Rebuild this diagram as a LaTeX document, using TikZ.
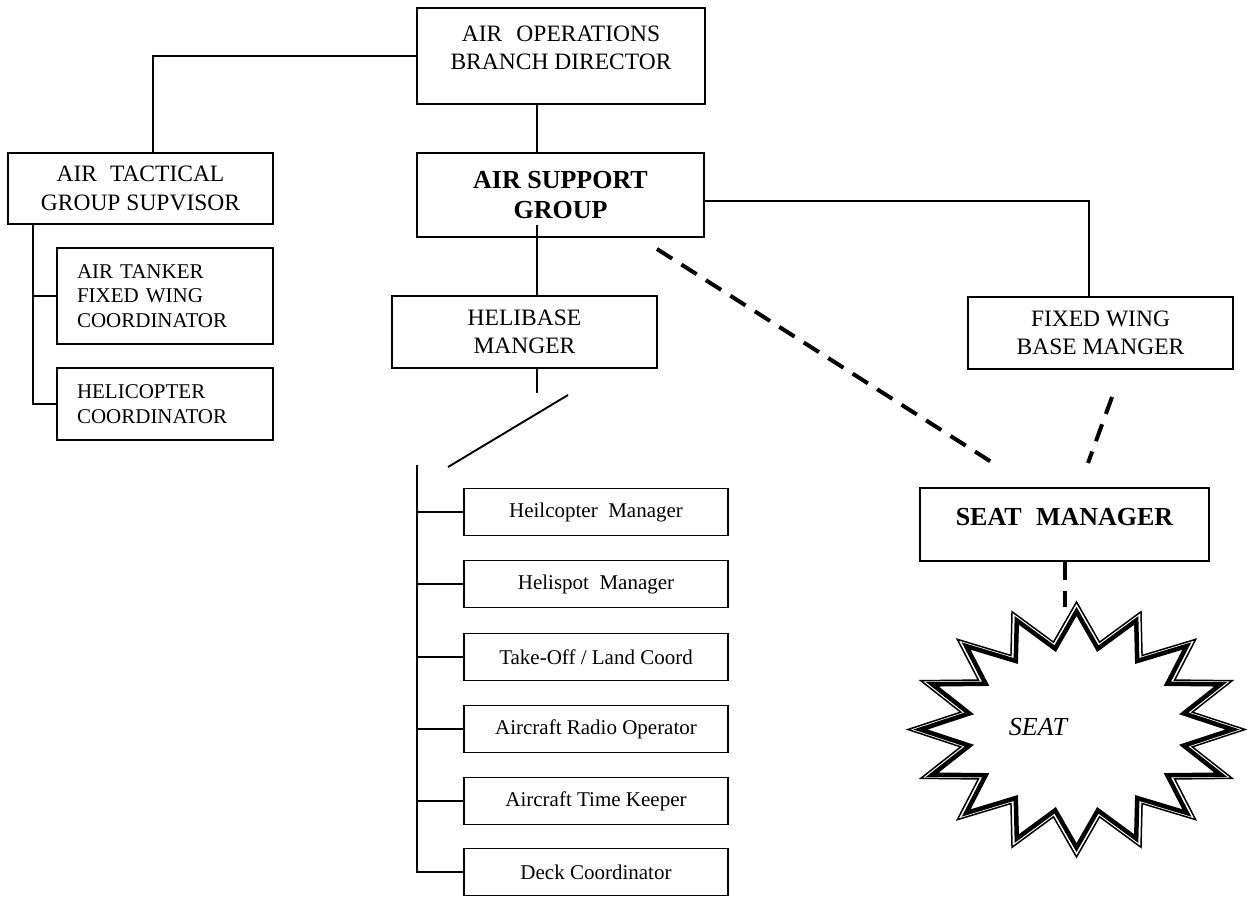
\documentclass[tikz,border=0pt]{standalone}
\usepackage{fontspec}
\setmainfont{Liberation Serif}
\begin{document}
\begin{tikzpicture}[x=1pt,y=-1pt,
  box/.style={draw, line width=1.8pt, rectangle, inner sep=0pt, align=center},
  conn/.style={line width=1.9pt},
  dashconn/.style={line width=4pt, dash pattern=on 18pt off 11pt},
  big/.style={font=\fontsize{23.5}{28.5}\selectfont},
  small/.style={font=\fontsize{21}{24.5}\selectfont},
  bigbold/.style={font=\fontsize{26}{30}\selectfont\bfseries},
  listbox/.style={box, small, minimum width=264pt, minimum height=47pt},
  leftbox/.style={box, small, minimum width=216pt, text width=176pt, align=left},
]
\useasboundingbox (0,0) rectangle (1249,896);

% main boxes
\node[box,big,minimum width=288pt,minimum height=96pt] (aobd) at (561,56)
  {AIR\hspace{0.6em}OPERATIONS\\BRANCH DIRECTOR\rule[-17pt]{0pt}{0pt}};
\node[box,bigbold,minimum width=287pt,minimum height=84pt] (asg) at (560.5,195)
  {AIR SUPPORT\\GROUP};
\node[box,big,minimum width=265pt,minimum height=71pt] (atgs) at (140.5,188.5)
  {AIR\hspace{0.55em}TACTICAL\\GROUP SUPVISOR};
\node[leftbox,minimum height=96pt] (atfw) at (165,296)
  {AIR TANKER\\FIXED WING\\COORDINATOR};
\node[leftbox,minimum height=72pt] (hc) at (165,404)
  {HELICOPTER\\COORDINATOR};
\node[box,big,minimum width=265pt,minimum height=72pt] (hb) at (524.5,332)
  {HELIBASE\\MANGER};
\node[box,big,minimum width=265pt,minimum height=72pt] (fw) at (1100.5,333)
  {FIXED WING\\BASE MANGER};
\node[box,bigbold,minimum width=289pt,minimum height=73pt] (seatm) at (1064.5,524.5)
  {SEAT\hspace{0.55em}MANAGER\rule[-15pt]{0pt}{0pt}};

% list boxes
\node[listbox] (l1) at (596,512) {Heilcopter\ \ Manager};
\node[listbox] (l2) at (596,584) {Helispot\ \ Manager};
\node[listbox] (l3) at (596,657) {Take-Off / Land Coord};
\node[listbox] (l4) at (596,729) {Aircraft Radio Operator};
\node[listbox] (l5) at (596,801) {Aircraft Time Keeper};
\node[listbox] (l6) at (596,872) {Deck Coordinator};

% star (thin outer line, white gap, thick inner line)
\draw[line width=1.5pt, fill=white, line join=miter]
  plot[samples at={0,...,31}]
  ({1076.5+(168.5-50.5*mod(\x,2))*cos(11.25*\x)},
   {729.5+(127.5-38.5*mod(\x,2))*sin(11.25*\x)}) -- cycle;
\draw[line width=4.5pt, line join=miter]
  plot[samples at={0,...,31}]
  ({1076.5+(156-46.7*mod(\x,2))*cos(11.25*\x)},
   {729.5+(118-35.6*mod(\x,2))*sin(11.25*\x)}) -- cycle;
\node[font=\fontsize{26}{30}\selectfont\itshape] (seat) at (1038,727) {SEAT};

% coordinates
\coordinate (tl) at (153,56);
\coordinate (hbstub) at (537,393);
\coordinate (asgstub) at (537,225);
\coordinate (fwtop) at (1089,201);
\coordinate (d1) at (568,395);
\coordinate (d2) at (448,467);
\coordinate (hbus) at (417,465);
\coordinate (lbus) at (33,224);
\coordinate (ds1) at (657,249);
\coordinate (ds2) at (993,463);
\coordinate (df1) at (1112,397);
\coordinate (df2) at (1088,463);
\coordinate (startop) at (1064.5,607);

% solid connectors
\draw[conn] (aobd.west) -- (tl) -- (tl |- atgs.north);
\draw[conn] (aobd.south -| hbstub) -- (asg.north -| hbstub);
\draw[conn] (asgstub) -- (asgstub |- hb.north);
\draw[conn] (asg.east |- fwtop) -- (fwtop) -- (fwtop |- fw.north);
\draw[conn] (hb.south -| hbstub) -- (hbstub);
\draw[conn] (d1) -- (d2);
\draw[conn] (hbus) |- (l6.west);
\foreach \n in {l1,l2,l3,l4,l5} \draw[conn] (hbus |- \n.west) -- (\n.west);
\draw[conn] (lbus) |- (hc.west);
\draw[conn] (lbus |- atfw.west) -- (atfw.west);

% dashed connectors
\draw[dashconn] (ds1) -- (ds2);
\draw[dashconn] (df1) -- (df2);
\draw[dashconn] (seatm.south) -- (startop);
\end{tikzpicture}
\end{document}
